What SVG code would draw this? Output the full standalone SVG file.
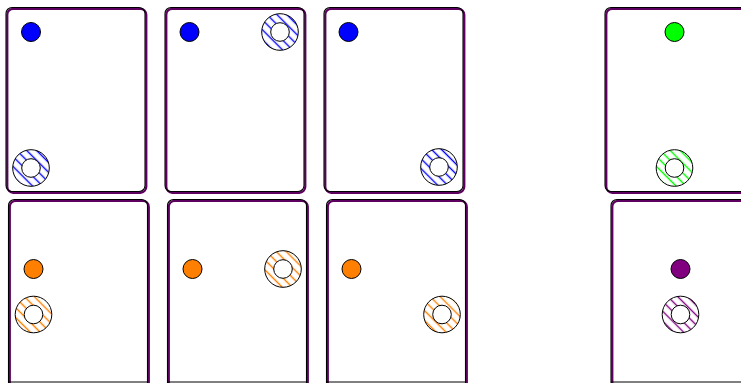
<svg xmlns="http://www.w3.org/2000/svg" width="741" height="383" viewBox="0 0 741 383">
<style>
.sh{fill:#fff;stroke:#5e0060;stroke-width:2.2}
.cd{fill:none;stroke:#000;stroke-width:1.1}
.dot{stroke:#000;stroke-width:1}
.ring{stroke:#000;stroke-width:1}
.hole{fill:#fff;stroke:#000;stroke-width:1}
</style>
<defs>
<pattern id="hb" width="7" height="7" patternUnits="userSpaceOnUse" patternTransform="rotate(-45)"><rect width="7" height="7" fill="#fff"/><line x1="3.5" y1="0" x2="3.5" y2="7" stroke="#0000ff" stroke-width="1.4"/></pattern>
<pattern id="hg" width="7" height="7" patternUnits="userSpaceOnUse" patternTransform="rotate(-45)"><rect width="7" height="7" fill="#fff"/><line x1="3.5" y1="0" x2="3.5" y2="7" stroke="#00ff00" stroke-width="1.4"/></pattern>
<pattern id="ho" width="7" height="7" patternUnits="userSpaceOnUse" patternTransform="rotate(-45)"><rect width="7" height="7" fill="#fff"/><line x1="3.5" y1="0" x2="3.5" y2="7" stroke="#ff8000" stroke-width="1.4"/></pattern>
<pattern id="hp" width="7" height="7" patternUnits="userSpaceOnUse" patternTransform="rotate(-45)"><rect width="7" height="7" fill="#fff"/><line x1="3.5" y1="0" x2="3.5" y2="7" stroke="#800080" stroke-width="1.4"/></pattern>
</defs>
<g id="card1">
<rect class="sh" x="7.3" y="8.8" width="139" height="184" rx="6"/>
<rect class="cd" x="6" y="7.5" width="139" height="184" rx="6"/>
<circle class="dot" cx="31" cy="32" r="9.5" fill="#0000ff"/>
<circle class="ring" cx="31" cy="168" r="18.3" fill="url(#hb)"/>
<circle class="hole" cx="31" cy="168" r="9.3"/>
</g>
<g id="card2">
<rect class="sh" x="166.3" y="8.8" width="139" height="184" rx="6"/>
<rect class="cd" x="165" y="7.5" width="139" height="184" rx="6"/>
<circle class="dot" cx="189.5" cy="32" r="9.5" fill="#0000ff"/>
<circle class="ring" cx="280" cy="32" r="18.3" fill="url(#hb)"/>
<circle class="hole" cx="280" cy="32" r="9.3"/>
</g>
<g id="card3">
<rect class="sh" x="325.3" y="8.8" width="139" height="184" rx="6"/>
<rect class="cd" x="324" y="7.5" width="139" height="184" rx="6"/>
<circle class="dot" cx="348.5" cy="32" r="9.5" fill="#0000ff"/>
<circle class="ring" cx="439" cy="167" r="18.3" fill="url(#hb)"/>
<circle class="hole" cx="439" cy="167" r="9.3"/>
</g>
<g id="card4">
<rect class="sh" x="606.3" y="8.8" width="150" height="184" rx="6"/>
<rect class="cd" x="605" y="7.5" width="150" height="184" rx="6"/>
<circle class="dot" cx="674.5" cy="32" r="9.5" fill="#00ff00"/>
<circle class="ring" cx="674.5" cy="168" r="18.3" fill="url(#hg)"/>
<circle class="hole" cx="674.5" cy="168" r="9.3"/>
</g>
<g id="card5">
<rect class="sh" x="9.8" y="200.8" width="139" height="190" rx="6"/>
<rect class="cd" x="8.5" y="199.5" width="139" height="190" rx="6"/>
<line x1="8.5" y1="382" x2="148" y2="382" stroke="#000" stroke-width="1"/>
<circle class="dot" cx="33.5" cy="269" r="9.5" fill="#ff8000"/>
<circle class="ring" cx="33.5" cy="314.5" r="18.3" fill="url(#ho)"/>
<circle class="hole" cx="33.5" cy="314.5" r="9.3"/>
</g>
<g id="card6">
<rect class="sh" x="168.8" y="200.8" width="139" height="190" rx="6"/>
<rect class="cd" x="167.5" y="199.5" width="139" height="190" rx="6"/>
<line x1="167.5" y1="382" x2="307" y2="382" stroke="#000" stroke-width="1"/>
<circle class="dot" cx="192.5" cy="269" r="9.5" fill="#ff8000"/>
<circle class="ring" cx="283" cy="269" r="18.3" fill="url(#ho)"/>
<circle class="hole" cx="283" cy="269" r="9.3"/>
</g>
<g id="card7">
<rect class="sh" x="327.8" y="200.8" width="139" height="190" rx="6"/>
<rect class="cd" x="326.5" y="199.5" width="139" height="190" rx="6"/>
<line x1="326.5" y1="382" x2="466" y2="382" stroke="#000" stroke-width="1"/>
<circle class="dot" cx="351.5" cy="269" r="9.5" fill="#ff8000"/>
<circle class="ring" cx="442" cy="314.5" r="18.3" fill="url(#ho)"/>
<circle class="hole" cx="442" cy="314.5" r="9.3"/>
</g>
<g id="card8">
<rect class="sh" x="612.3" y="200.8" width="150" height="190" rx="6"/>
<rect class="cd" x="611" y="199.5" width="150" height="190" rx="6"/>
<line x1="611" y1="382" x2="741" y2="382" stroke="#000" stroke-width="1"/>
<circle class="dot" cx="680.5" cy="269" r="9.5" fill="#800080"/>
<circle class="ring" cx="680.5" cy="314.5" r="18.3" fill="url(#hp)"/>
<circle class="hole" cx="680.5" cy="314.5" r="9.3"/>
</g>
<g id="connectors"/>
</svg>
